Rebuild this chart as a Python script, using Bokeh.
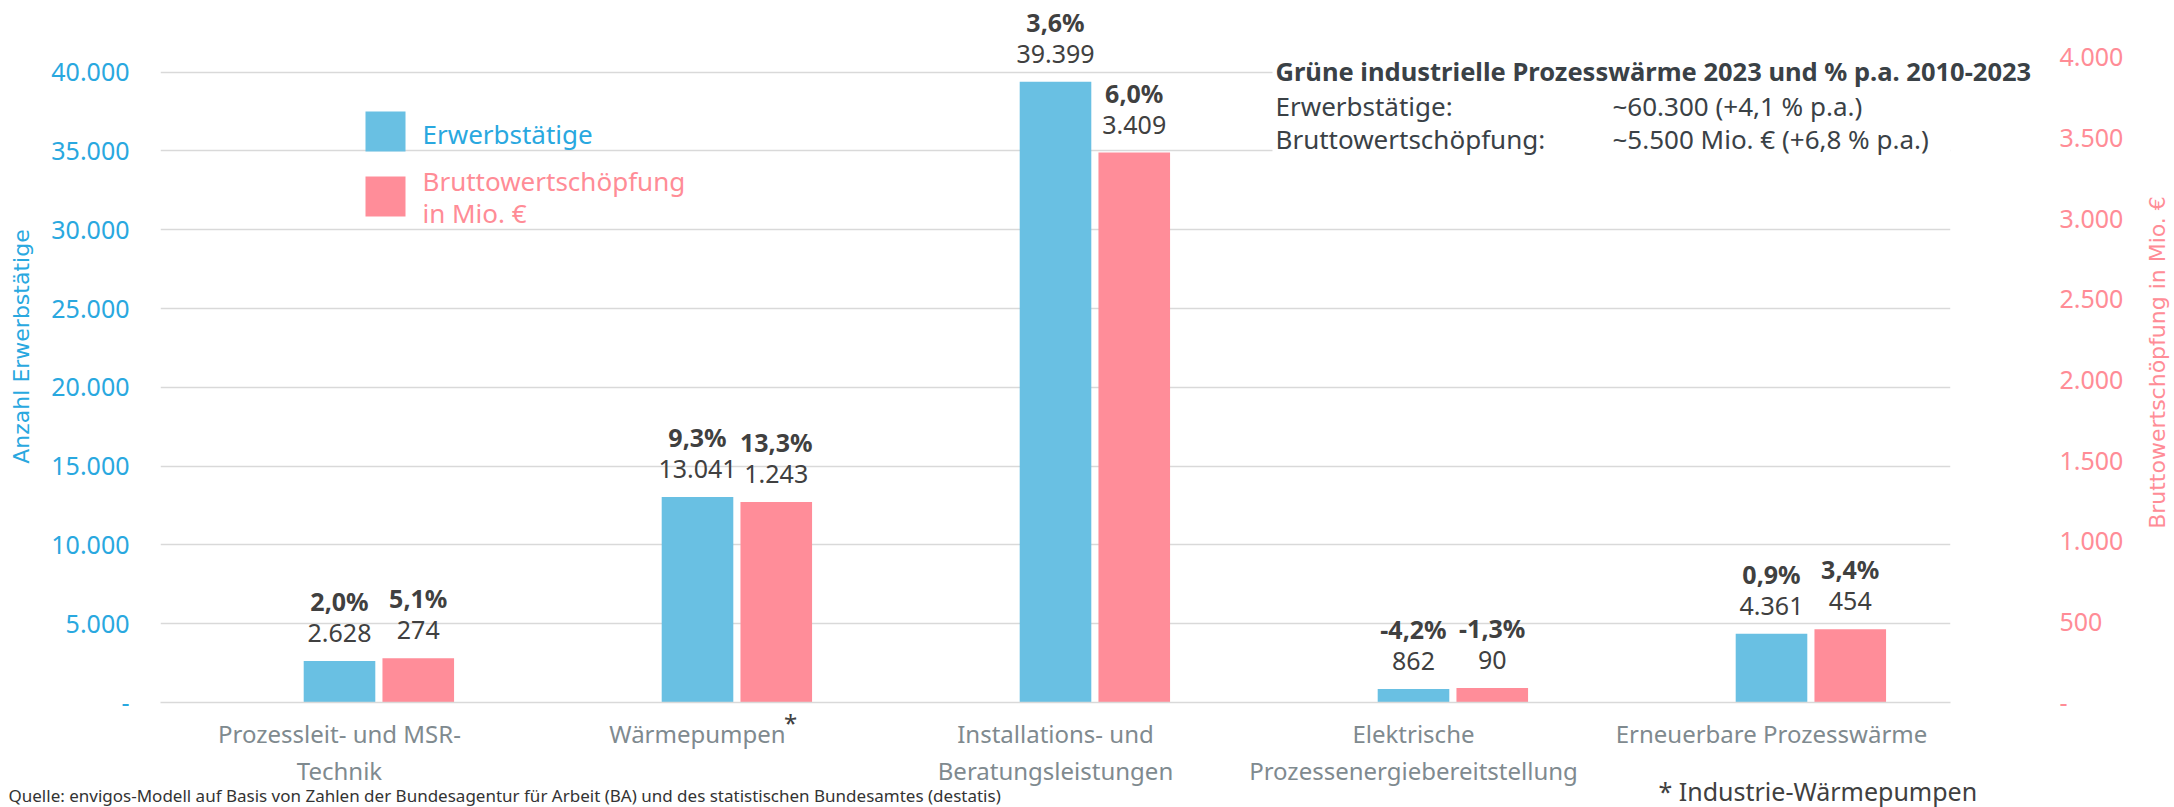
import math
from bokeh.plotting import figure
from bokeh.models import (FactorRange, Range1d, LinearAxis, FixedTicker, ColumnDataSource,
                          Label, BoxAnnotation)
from bokeh.transform import dodge
from bokeh.core.properties import value
from bokeh.embed import file_html
from bokeh.resources import INLINE

# ---------------- data ----------------
categories = [
    "Prozessleit- und MSR-\nTechnik",
    "Wärmepumpen",
    "Installations- und\nBeratungsleistungen",
    "Elektrische\nProzessenergiebereitstellung",
    "Erneuerbare Prozesswärme",
]
erwerbstaetige = [2628, 13041, 39399, 862, 4361]
bruttowertschoepfung = [274, 1243, 3409, 90, 454]
wachstum_erwerb = ["2,0%", "9,3%", "3,6%", "-4,2%", "0,9%"]
wachstum_bws = ["5,1%", "13,3%", "6,0%", "-1,3%", "3,4%"]
left_ticks = [0, 5000, 10000, 15000, 20000, 25000, 30000, 35000, 40000]
right_ticks = [0, 500, 1000, 1500, 2000, 2500, 3000, 3500, 4000]

# ---------------- style ----------------
BLUE = "#69C0E3"
PINK = "#FF8D99"
BLUE_TXT = "#29A8DF"
PINK_TXT = "#FF8C96"
GRID = "#D9D9D9"
DARK = "#404040"
GRAY = "#7F8A8F"
ANN = "#3A4146"
FONT = "Noto Sans"
TFONT = "DejaVu Sans"


def de(n):
    return "-" if n == 0 else f"{n:,}".replace(",", ".")


W, H = 2174, 807
ML, MR, MT, MB = 160, 224, 10, 105
FL, FR, FT, FB = ML, W - MR, MT, H - MB
Y_END = 43916
Y2_END = 4289.5
NCAT = len(categories)


def X(px):  # canvas pixel -> synthetic x
    return (px - FL) * NCAT / (FR - FL)


def Y(py):  # canvas pixel -> left-axis data
    return (FB - py) * Y_END / (FB - FT)


p = figure(width=W, height=H, x_range=FactorRange(*categories, range_padding=0),
           y_range=Range1d(0, Y_END), output_backend="svg", toolbar_location=None,
           min_border_left=ML, min_border_right=MR, min_border_top=MT, min_border_bottom=MB)
p.outline_line_color = None
p.background_fill_color = "white"
p.border_fill_color = "white"
p.extra_y_ranges = {"right": Range1d(0, Y2_END)}

src = ColumnDataSource(dict(
    cat=categories,
    erw=erwerbstaetige,
    bws=bruttowertschoepfung,
    erw_txt=[de(v) for v in erwerbstaetige],
    bws_txt=[de(v) for v in bruttowertschoepfung],
    erw_pct=wachstum_erwerb,
    bws_pct=wachstum_bws,
))

# white box hiding gridlines behind the info text
p.add_layout(BoxAnnotation(left=X(1272), bottom=Y(172), fill_color="white", fill_alpha=1,
                           line_alpha=0, level="underlay"))

p.vbar(x="cat", top="erw", width=0.2, source=src, fill_color=BLUE, line_color=None)
p.vbar(x=dodge("cat", 0.22, range=p.x_range), top="bws", width=0.2, source=src,
       y_range_name="right", fill_color=PINK, line_color=None)

common = dict(text_align="center", text_baseline="middle", text_font=value(FONT),
              text_font_size="25px", text_color=DARK, level="overlay")
p.text(x="cat", y="erw", text="erw_txt", source=src, y_offset=-28, **common)
p.text(x="cat", y="erw", text="erw_pct", source=src, y_offset=-60, text_font_style="bold", **common)
p.text(x=dodge("cat", 0.22, range=p.x_range), y="bws", text="bws_txt", source=src,
       y_range_name="right", y_offset=-28, **common)
p.text(x=dodge("cat", 0.22, range=p.x_range), y="bws", text="bws_pct", source=src,
       y_range_name="right", y_offset=-60, text_font_style="bold", **common)

# grid
p.xgrid.visible = False
p.ygrid.ticker = FixedTicker(ticks=left_ticks)
p.ygrid.grid_line_color = GRID
p.ygrid.grid_line_width = 1.5

# left axis
ya = p.yaxis[0]
ya.ticker = FixedTicker(ticks=left_ticks)
ya.major_label_overrides = {t: de(t) for t in left_ticks}
ya.major_label_text_color = BLUE_TXT
ya.major_label_text_font = FONT
ya.major_label_text_font_size = "25px"
ya.major_label_standoff = 31
ya.major_tick_out = 0
ya.major_tick_in = 0
ya.axis_line_color = None
ya.major_tick_line_color = None
ya.minor_tick_line_color = None

# right axis
ra = LinearAxis(y_range_name="right", ticker=FixedTicker(ticks=right_ticks))
ra.major_label_overrides = {t: de(t) for t in right_ticks}
ra.major_label_text_color = PINK_TXT
ra.major_label_text_font = FONT
ra.major_label_text_font_size = "25px"
ra.major_label_standoff = 109
ra.major_tick_out = 0
ra.major_tick_in = 0
ra.axis_line_color = None
ra.major_tick_line_color = None
ra.minor_tick_line_color = None
p.add_layout(ra, "right")

# bottom axis
xa = p.xaxis[0]
xa.major_label_text_color = GRAY
xa.major_label_text_font = FONT
xa.major_label_text_font_size = "24px"
xa.major_label_text_line_height = 1.15
xa.major_label_standoff = 14
xa.major_tick_out = 0
xa.major_tick_in = 0
xa.axis_line_color = GRID
xa.axis_line_width = 1.5
xa.major_tick_line_color = None
xa.minor_tick_line_color = None

# axis titles (in the side panels, so they are not clipped)
p.add_layout(Label(x=X(21), y=Y(346), text="Anzahl Erwerbstätige", angle=math.pi / 2,
                   text_align="center", text_baseline="middle", text_font=TFONT,
                   text_font_size="22px", text_color=BLUE_TXT), "left")
p.add_layout(Label(x=X(2157), y=Y(362), text="Bruttowertschöpfung in Mio. €", angle=math.pi / 2,
                   text_align="center", text_baseline="middle", text_font=TFONT,
                   text_font_size="22px", text_color=PINK_TXT), "right")

# legend
p.add_layout(BoxAnnotation(left=X(365), right=X(405), top=Y(111), bottom=Y(151),
                           fill_color=BLUE, fill_alpha=1, line_alpha=0))
p.add_layout(BoxAnnotation(left=X(365), right=X(405), top=Y(176), bottom=Y(216),
                           fill_color=PINK, fill_alpha=1, line_alpha=0))


def txt(px, py, text, color, size, style="normal", align="left", font=FONT):
    p.text(x=[X(px)], y=[Y(py)], text=[text], text_align=align, text_baseline="middle",
           text_font=value(font), text_font_size=size, text_font_style=style,
           text_color=color, level="overlay")


txt(422, 133, "Erwerbstätige", BLUE_TXT, "26px")
txt(422, 180, "Bruttowertschöpfung", PINK_TXT, "26px")
txt(422, 212, "in Mio. €", PINK_TXT, "26px")

# info box
txt(1275, 70, "Grüne industrielle Prozesswärme 2023 und % p.a. 2010-2023", ANN, "25.5px", "bold")
txt(1275, 105, "Erwerbstätige:", ANN, "26px")
txt(1612, 105, "~60.300 (+4,1 % p.a.)", ANN, "26px")
txt(1275, 138, "Bruttowertschöpfung:", ANN, "26px")
txt(1612, 138, "~5.500 Mio. € (+6,8 % p.a.)", ANN, "26px")

# footnotes
txt(790, 722, "*", DARK, "24px", align="center")
txt(1658, 790, "* Industrie-Wärmepumpen", DARK, "25px")
txt(8, 795, "Quelle: envigos-Modell auf Basis von Zahlen der Bundesagentur für Arbeit (BA) und des statistischen Bundesamtes (destatis)",
    "#333333", "17px")

open("out.html", "w").write(file_html(p, INLINE))
